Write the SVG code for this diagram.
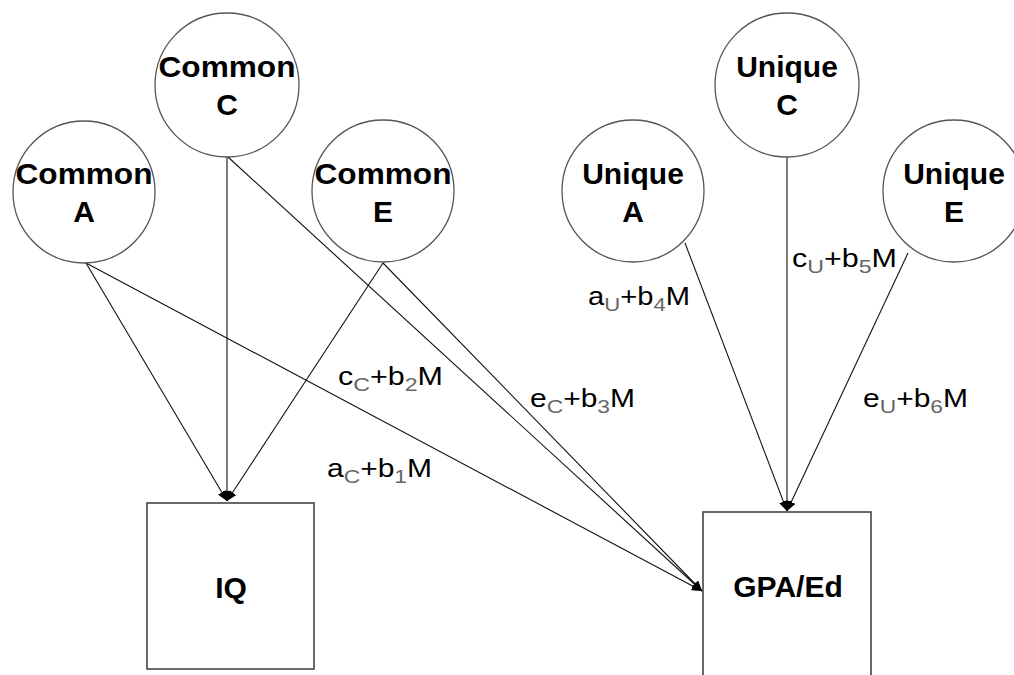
<svg xmlns="http://www.w3.org/2000/svg" width="1014" height="675" viewBox="0 0 1014 675">
<style>
.circ{fill:#fff;stroke:#555;stroke-width:1.3}
.box{fill:#fff;stroke:#444;stroke-width:1.6}
.nt{font-family:"Liberation Sans",Arial,sans-serif;font-weight:bold;font-size:30px;fill:#000;text-anchor:middle}
.lbl{font-family:"Liberation Sans",Arial,sans-serif;font-size:25px;fill:#000}
.sub{font-size:19px;fill:#666}
.edge{stroke:#111;stroke-width:1.1;fill:none;marker-end:url(#ah)}
</style>
<defs>
<marker id="ah" markerUnits="userSpaceOnUse" markerWidth="11" markerHeight="9" refX="10" refY="4.5" orient="auto">
<path d="M0,0 L10,4.5 L0,9 z" fill="#000"/>
</marker>
</defs>
<rect width="1014" height="675" fill="#fff"/>
<g id="connectors">
<line class="edge" x1="86" y1="263" x2="227" y2="501"/>
<line class="edge" x1="86" y1="263" x2="702" y2="591"/>
<line class="edge" x1="227" y1="157" x2="227" y2="501"/>
<line class="edge" x1="228" y1="157" x2="702" y2="591"/>
<line class="edge" x1="383" y1="263" x2="227" y2="501"/>
<line class="edge" x1="383" y1="263" x2="702" y2="591"/>
<line class="edge" x1="685" y1="243" x2="787" y2="511"/>
<line class="edge" x1="787" y1="157" x2="787" y2="511"/>
<line class="edge" x1="908" y1="253" x2="787" y2="511"/>
</g>
<g id="labels">
<text class="lbl" x="327" y="477" textLength="105" lengthAdjust="spacingAndGlyphs">a<tspan class="sub" dy="6">C</tspan><tspan dy="-6">+b</tspan><tspan class="sub" dy="6">1</tspan><tspan dy="-6">M</tspan></text>
<text class="lbl" x="338" y="385" textLength="105" lengthAdjust="spacingAndGlyphs">c<tspan class="sub" dy="6">C</tspan><tspan dy="-6">+b</tspan><tspan class="sub" dy="6">2</tspan><tspan dy="-6">M</tspan></text>
<text class="lbl" x="530" y="407" textLength="105" lengthAdjust="spacingAndGlyphs">e<tspan class="sub" dy="6">C</tspan><tspan dy="-6">+b</tspan><tspan class="sub" dy="6">3</tspan><tspan dy="-6">M</tspan></text>
<text class="lbl" x="588" y="305" textLength="102" lengthAdjust="spacingAndGlyphs">a<tspan class="sub" dy="6">U</tspan><tspan dy="-6">+b</tspan><tspan class="sub" dy="6">4</tspan><tspan dy="-6">M</tspan></text>
<text class="lbl" x="792" y="267" textLength="105" lengthAdjust="spacingAndGlyphs">c<tspan class="sub" dy="6">U</tspan><tspan dy="-6">+b</tspan><tspan class="sub" dy="6">5</tspan><tspan dy="-6">M</tspan></text>
<text class="lbl" x="863" y="407" textLength="105" lengthAdjust="spacingAndGlyphs">e<tspan class="sub" dy="6">U</tspan><tspan dy="-6">+b</tspan><tspan class="sub" dy="6">6</tspan><tspan dy="-6">M</tspan></text>
</g>
<g id="commonA"><circle class="circ" cx="84" cy="192" r="71"/><text class="nt" x="84" y="184" textLength="137" lengthAdjust="spacingAndGlyphs">Common</text><text class="nt" x="84" y="222">A</text></g>
<g id="commonC"><circle class="circ" cx="227" cy="85" r="72"/><text class="nt" x="227" y="77" textLength="137" lengthAdjust="spacingAndGlyphs">Common</text><text class="nt" x="227" y="115">C</text></g>
<g id="commonE"><circle class="circ" cx="383" cy="191" r="71"/><text class="nt" x="383" y="184" textLength="137" lengthAdjust="spacingAndGlyphs">Common</text><text class="nt" x="383" y="222">E</text></g>
<g id="uniqueA"><circle class="circ" cx="633" cy="191" r="71"/><text class="nt" x="633" y="184">Unique</text><text class="nt" x="633" y="222">A</text></g>
<g id="uniqueC"><circle class="circ" cx="787" cy="85" r="72"/><text class="nt" x="787" y="77">Unique</text><text class="nt" x="787" y="115">C</text></g>
<g id="uniqueE"><circle class="circ" cx="954" cy="191" r="71"/><text class="nt" x="954" y="184">Unique</text><text class="nt" x="954" y="222">E</text></g>
<g id="IQ"><rect class="box" x="147" y="503" width="167" height="166"/><text class="nt" x="231" y="598">IQ</text></g>
<g id="GPAEd"><rect class="box" x="703" y="512" width="168" height="200"/><text class="nt" x="788" y="597">GPA/Ed</text></g>
</svg>
